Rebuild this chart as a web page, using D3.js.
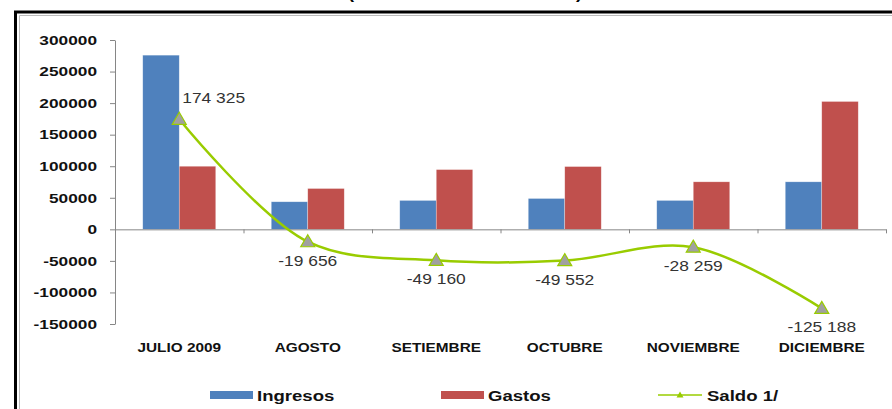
<!DOCTYPE html>
<html>
<head>
<meta charset="utf-8">
<script src="https://cdn.jsdelivr.net/npm/d3@7"></script>
<style>
  body { margin: 0; background: #fff; }
  svg { display: block; font-family: "Liberation Sans", Arial, sans-serif; }
</style>
</head>
<body>
<svg id="chart" width="892" height="409"></svg>
<script>
// Data
const categorias = ['JULIO 2009', 'AGOSTO', 'SETIEMBRE', 'OCTUBRE', 'NOVIEMBRE', 'DICIEMBRE'];
const ingresos = [276000, 43700, 45800, 48900, 45800, 75300];
const gastos = [100000, 64700, 94700, 99500, 75300, 202600];
const saldo = [174325, -19656, -49160, -49552, -28259, -125188];
const saldoTxt = ['174 325', '-19 656', '-49 160', '-49 552', '-28 259', '-125 188'];
const yTicks = [-150000, -100000, -50000, 0, 50000, 100000, 150000, 200000, 250000, 300000];
const series = ['Ingresos', 'Gastos', 'Saldo 1/'];

const colors = {Ingresos: '#4f81bd', Gastos: '#c0504d', line: '#99cc00', marker: '#a0a0a0'};
const sx = 1.28; // the original is stretched sideways

const svg = d3.select('#chart');

// frame + title cut at the top edge (only the parentheses show)
svg.append('path')
  .attr('d', 'M15.5,409 V12 H892')
  .attr('fill', 'none').attr('stroke', '#000').attr('stroke-width', 3);
svg.append('path')
  .attr('d', 'M19.5,409 V15.5 H892')
  .attr('fill', 'none').attr('stroke', '#bbb').attr('stroke-width', 1);
svg.append('text')
  .attr('x', 348).attr('y', -1.5)
  .attr('textLength', 234).attr('lengthAdjust', 'spacingAndGlyphs')
  .style('font-size', '16px').style('font-weight', 'bold')
  .text('(En miles de nuevos soles)');

const plot = {left: 115, right: 886, top: 40, bottom: 324};

const x = d3.scaleBand()
  .domain(categorias)
  .range([plot.left, plot.right]);

const x1 = d3.scaleBand()
  .domain(['Ingresos', 'Gastos'])
  .range([0, x.bandwidth()])
  .paddingInner(0)
  .paddingOuter(0.76);

const y = d3.scaleLinear()
  .domain([-150000, 300000])
  .range([plot.bottom, plot.top]);

// y axis
const axisY = svg.append('g')
  .attr('transform', `translate(${plot.left},0)`)
  .call(d3.axisLeft(y).tickValues(yTicks).tickSize(5).tickSizeOuter(0).tickFormat(d => String(d)));
axisY.select('.domain').attr('stroke', '#868686');
axisY.selectAll('.tick line').attr('stroke', '#868686');
axisY.selectAll('.tick text')
  .attr('x', -18 / sx)
  .attr('transform', `scale(${sx},1)`)
  .attr('fill', '#111')
  .style('font-size', '13.5px').style('font-weight', 'bold')
  .style('font-family', '"Liberation Sans", Arial, sans-serif');

// bars
const groups = svg.append('g').selectAll('g')
  .data(categorias)
  .join('g')
  .attr('transform', d => `translate(${x(d)},0)`);

groups.selectAll('rect')
  .data((d, i) => [{k: 'Ingresos', v: ingresos[i]}, {k: 'Gastos', v: gastos[i]}])
  .join('rect')
  .attr('x', d => x1(d.k))
  .attr('width', x1.bandwidth())
  .attr('y', d => y(Math.max(0, d.v)))
  .attr('height', d => Math.abs(y(d.v) - y(0)))
  .attr('fill', d => colors[d.k])
  .attr('stroke', '#fff').attr('stroke-opacity', 0.5).attr('stroke-width', 0.6);

// x axis at zero, ticks between categories
const xb = d3.scaleLinear().domain([0, categorias.length]).range([plot.left, plot.right]);
const axisX = svg.append('g')
  .attr('transform', `translate(0,${y(0)})`)
  .call(d3.axisBottom(xb).tickValues(d3.range(1, categorias.length + 1)).tickSize(4).tickSizeOuter(0).tickFormat(''));
axisX.select('.domain').attr('stroke', '#868686');
axisX.selectAll('.tick line').attr('stroke', '#868686');

// category labels at the bottom
svg.append('g').selectAll('text')
  .data(categorias)
  .join('text')
  .attr('transform', d => `translate(${x(d) + x.bandwidth() / 2},352) scale(${sx},1)`)
  .attr('text-anchor', 'middle')
  .attr('fill', '#111')
  .style('font-size', '12px').style('font-weight', 'bold')
  .text(d => d);

// saldo line
const pts = saldo.map((v, i) => [x(categorias[i]) + x.bandwidth() / 2, y(v)]);
const line = d3.line().curve(d3.curveCatmullRom.alpha(0.5));

svg.append('path')
  .attr('d', line(pts))
  .attr('fill', 'none')
  .attr('stroke', colors.line)
  .attr('stroke-width', 2.5);

const tri = 'M0,-7 L7,5 L-7,5 Z';
svg.append('g').selectAll('path')
  .data(pts)
  .join('path')
  .attr('d', tri)
  .attr('transform', d => `translate(${d[0]},${d[1]})`)
  .attr('fill', colors.marker)
  .attr('stroke', colors.line)
  .attr('stroke-width', 1.2);

// data labels
svg.append('g').selectAll('text')
  .data(pts)
  .join('text')
  .attr('transform', (d, i) => i === 0
    ? `translate(${d[0] + 3},${d[1] - 16}) scale(1.16,1)`
    : `translate(${d[0]},${d[1] + 24}) scale(1.16,1)`)
  .attr('text-anchor', (d, i) => i === 0 ? 'start' : 'middle')
  .attr('fill', '#333')
  .style('font-size', '15px')
  .text((d, i) => saldoTxt[i]);

// legend
const leg = svg.append('g');
const legX = [210, 441, 658];
series.forEach((s, i) => {
  const g = leg.append('g').attr('transform', `translate(${legX[i]},395)`);
  if (i < 2) {
    g.append('rect').attr('x', 0).attr('y', -4).attr('width', 43).attr('height', 8).attr('fill', colors[s]);
  } else {
    g.append('line').attr('x1', 0).attr('x2', 44).attr('stroke', colors.line).attr('stroke-width', 1.5);
    g.append('path').attr('d', 'M0,-3.5 L3.5,2.5 L-3.5,2.5 Z')
      .attr('transform', 'translate(22,0)').attr('fill', colors.line);
  }
  g.append('text')
    .attr('transform', `translate(${i < 2 ? 47 : 49},5.5) scale(${sx},1)`)
    .attr('fill', '#111')
    .style('font-size', '14.5px').style('font-weight', 'bold')
    .text(s);
});
</script>
</body>
</html>
